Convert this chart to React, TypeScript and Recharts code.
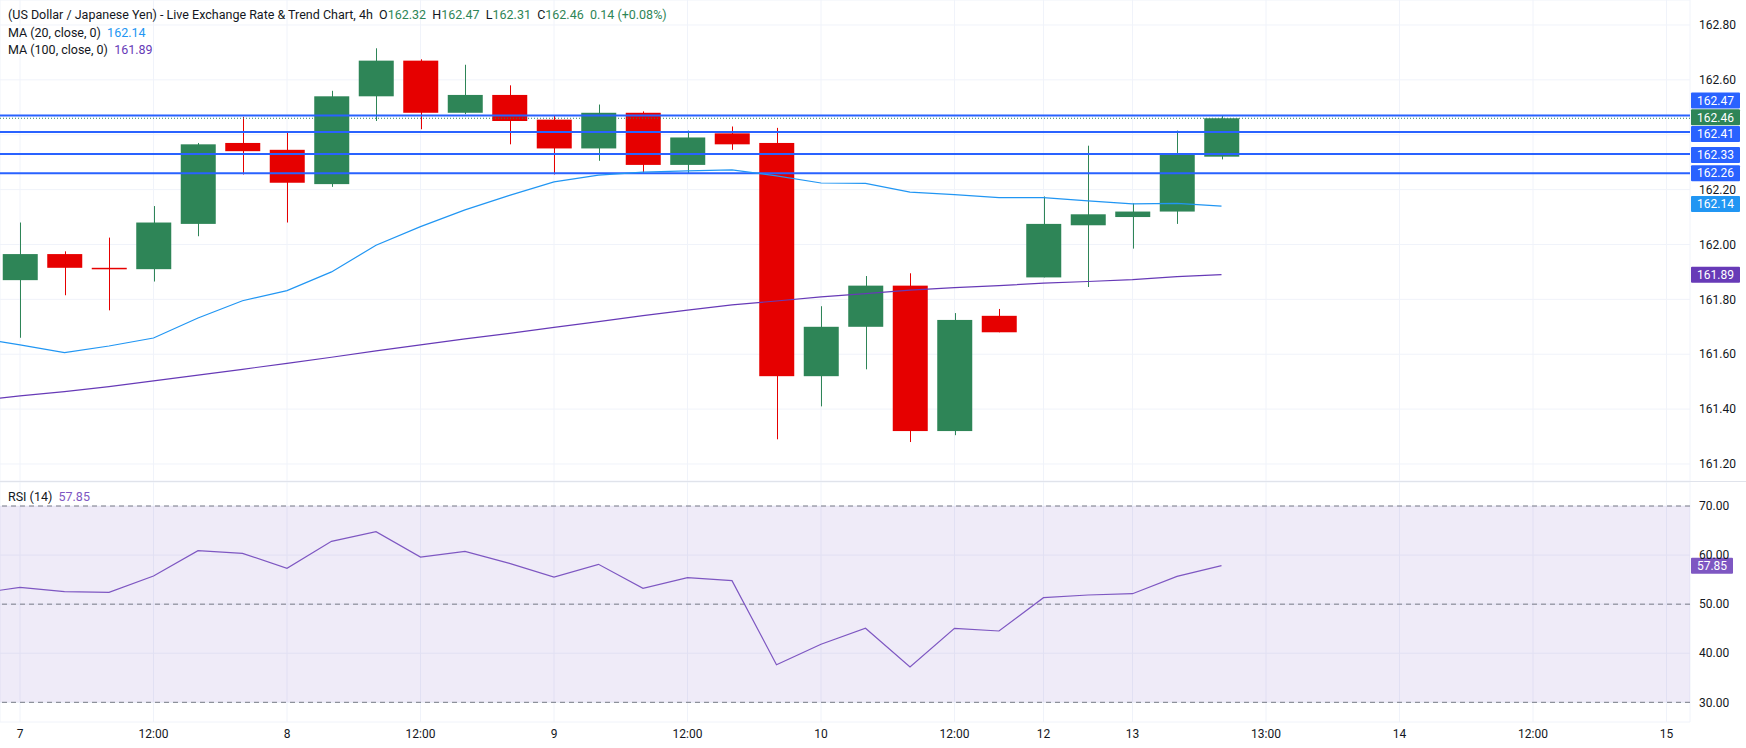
import React from 'react';
import {
  ComposedChart,
  Bar,
  Line,
  XAxis,
  YAxis,
  CartesianGrid,
  ReferenceLine,
  ReferenceArea
} from 'recharts';

// 4h candles, index -1 only carries indicator values (left edge of the window)
const opens = [161.87, 161.965, 161.915, 161.91, 162.075, 162.37, 162.345, 162.22, 162.54, 162.67, 162.48, 162.545, 162.455, 162.35, 162.48, 162.29, 162.405, 162.37, 161.52, 161.7, 161.85, 161.32, 161.74, 161.88, 162.07, 162.1, 162.12, 162.32];
const highs = [162.08, 161.975, 162.025, 162.14, 162.37, 162.465, 162.41, 162.56, 162.715, 162.675, 162.655, 162.58, 162.47, 162.51, 162.485, 162.415, 162.43, 162.425, 161.775, 161.885, 161.895, 161.75, 161.765, 162.175, 162.36, 162.15, 162.415, 162.47];
const lows = [161.66, 161.815, 161.76, 161.865, 162.03, 162.255, 162.08, 162.21, 162.45, 162.42, 162.475, 162.365, 162.255, 162.305, 162.26, 162.26, 162.345, 161.29, 161.41, 161.545, 161.28, 161.305, 161.68, 161.88, 161.845, 161.985, 162.075, 162.31];
const closes = [161.965, 161.915, 161.91, 162.08, 162.365, 162.34, 162.225, 162.54, 162.67, 162.48, 162.545, 162.45, 162.35, 162.48, 162.29, 162.39, 162.365, 161.52, 161.7, 161.85, 161.32, 161.725, 161.68, 162.075, 162.11, 162.12, 162.33, 162.46];

// indicators start one bar earlier (index -1)
const ma20 = [161.66, 161.634, 161.606, 161.63, 161.659, 161.732, 161.795, 161.832, 161.9, 161.997, 162.065, 162.126, 162.179, 162.228, 162.253, 162.264, 162.268, 162.272, 162.25, 162.224, 162.223, 162.191, 162.182, 162.171, 162.171, 162.159, 162.148, 162.15, 162.14];
const ma100 = [161.43, 161.448, 161.464, 161.482, 161.503, 161.524, 161.545, 161.567, 161.589, 161.612, 161.634, 161.656, 161.676, 161.698, 161.719, 161.741, 161.761, 161.78, 161.794, 161.809, 161.821, 161.834, 161.843, 161.85, 161.859, 161.865, 161.872, 161.883, 161.89];
const rsi = [52.1, 53.43, 52.54, 52.41, 55.74, 60.9, 60.36, 57.3, 62.8, 64.77, 59.6, 60.77, 58.32, 55.53, 58.12, 53.23, 55.4, 54.78, 37.67, 41.82, 45.08, 37.2, 45.08, 44.53, 51.32, 51.87, 52.13, 55.67, 57.85];

const timeTicks = [0, 3, 6, 9, 12, 15, 18, 21, 23, 25, 28, 31, 34, 37];
const timeLabels = ['7', '12:00', '8', '12:00', '9', '12:00', '10', '12:00', '12', '13', '13:00', '14', '12:00', '15'];

const priceTicks = [161.2, 161.4, 161.6, 161.8, 162.0, 162.2, 162.4, 162.6, 162.8];
// tick text hidden where a price tag sits on top of it
const hiddenPriceTicks = [162.4];
const rsiTicks = [30, 40, 50, 60, 70];

const levels = [162.47, 162.41, 162.33, 162.26];

const GREEN = '#2e8557';
const RED = '#e60000';
const BLUE = '#2962ff';
const MA20_COLOR = '#2196f3';
const MA100_COLOR = '#673ab7';
const RSI_COLOR = '#7e57c2';
const TEXT = '#131722';
const GRID = '#f0f3fa';
const FONT = 'Roboto, "Liberation Sans", sans-serif';

const rows = ma20.map((_, k) => {
  const i = k - 1;
  const c = i >= 0;
  return {
    i,
    range: c ? [lows[i], highs[i]] : null,
    open: c ? opens[i] : null,
    close: c ? closes[i] : null,
    ma20: ma20[k],
    ma100: ma100[k],
    rsi: rsi[k]
  };
});

const X_MIN = -20 / 44.5;
const X_MAX = X_MIN + 1690 / 44.5;

function Candle(props: any) {
  const { x, y, width, height, payload } = props;
  if (!payload || payload.open == null) return null;
  const [lo, hi] = payload.range;
  const k = height / (hi - lo || 1);
  const up = payload.close >= payload.open;
  const color = up ? GREEN : RED;
  const cx = Math.round(x + width / 2) + 0.5;
  const top = y + (hi - Math.max(payload.open, payload.close)) * k;
  const bot = y + (hi - Math.min(payload.open, payload.close)) * k;
  return (
    <g>
      <line x1={cx} x2={cx} y1={y} y2={y + height} stroke={color} strokeWidth={1} />
      <rect x={x} y={top} width={width} height={Math.max(bot - top, 1.5)} fill={color} />
    </g>
  );
}

function AxisTag({ viewBox, text, fill, dy = 0, w = 49 }: any) {
  if (!viewBox) return null;
  const x = viewBox.x + viewBox.width + 1;
  const y = viewBox.y + dy;
  return (
    <g>
      <rect x={x} y={y - 8} width={w} height={16} rx={1} fill={fill} />
      <text
        x={x + w / 2}
        y={y}
        dy='0.36em'
        textAnchor='middle'
        fill='#fff'
        fontSize={12}
        fontFamily={FONT}
      >
        {text}
      </text>
    </g>
  );
}

const levelShift: Record<string, number> = { '162.47': -15, '162.41': 2, '162.33': 1, '162.26': 0 };

function Legend() {
  const row = { position: 'absolute' as const, left: 8, fontSize: 12.5, color: TEXT, whiteSpace: 'pre' as const, lineHeight: '16px' };
  const g = { color: GREEN };
  return (
    <>
      <div style={{ ...row, top: 7 }}>
        (US Dollar / Japanese Yen) - Live Exchange Rate &amp; Trend Chart, 4h{'  '}O<span style={g}>162.32</span>{'  '}H
        <span style={g}>162.47</span>{'  '}L<span style={g}>162.31</span>{'  '}C<span style={g}>162.46</span>{'  '}
        <span style={g}>0.14 (+0.08%)</span>
      </div>
      <div style={{ ...row, top: 25 }}>
        MA (20, close, 0){'  '}<span style={{ color: MA20_COLOR }}>162.14</span>
      </div>
      <div style={{ ...row, top: 42 }}>
        MA (100, close, 0){'  '}<span style={{ color: MA100_COLOR }}>161.89</span>
      </div>
      <div style={{ ...row, top: 489 }}>
        RSI (14){'  '}<span style={{ color: RSI_COLOR }}>57.85</span>
      </div>
    </>
  );
}

export default function App() {
  const tickFont = { fill: TEXT, fontSize: 12, fontFamily: FONT };
  return (
    <div
      style={{
        position: 'absolute',
        left: 0,
        top: 0,
        width: 1746,
        height: 748,
        background: '#fff',
        fontFamily: FONT,
        overflow: 'hidden'
      }}
    >
      <ComposedChart width={1746} height={481} data={rows} margin={{ top: 0, right: 0, bottom: 0, left: 0 }}>
        <CartesianGrid stroke={GRID} />
        <XAxis dataKey='i' type='number' domain={[X_MIN, X_MAX]} ticks={timeTicks} allowDataOverflow hide />
        <YAxis
          orientation='right'
          width={56}
          domain={[161.138, 162.891]}
          ticks={priceTicks}
          allowDataOverflow
          tickLine={false}
          axisLine={false}
          tickSize={0}
          tickMargin={9}
          tick={tickFont}
          tickFormatter={(v: number) =>
            hiddenPriceTicks.some((h) => Math.abs(h - v) < 1e-6) ? '' : v.toFixed(2)
          }
        />
        {levels.map((v) => (
          <ReferenceLine
            key={v}
            y={v}
            stroke={BLUE}
            strokeWidth={2}
            label={<AxisTag text={v.toFixed(2)} fill={BLUE} dy={levelShift[v.toFixed(2)]} />}
          />
        ))}
        <ReferenceLine
          y={162.46}
          stroke={GREEN}
          strokeDasharray='1 2'
          label={<AxisTag text='162.46' fill={GREEN} dy={-1} />}
        />
        <Line dataKey='ma100' stroke={MA100_COLOR} strokeWidth={1.2} dot={false} activeDot={false} isAnimationActive={false} />
        <Line dataKey='ma20' stroke={MA20_COLOR} strokeWidth={1.2} dot={false} activeDot={false} isAnimationActive={false} />
        <Bar dataKey='range' barSize={35} shape={<Candle />} isAnimationActive={false} />
        <ReferenceLine y={162.14} stroke='none' label={<AxisTag text='162.14' fill={MA20_COLOR} dy={-2} />} />
        <ReferenceLine y={161.89} stroke='none' label={<AxisTag text='161.89' fill={MA100_COLOR} dy={0} />} />
      </ComposedChart>
      <div style={{ height: 1, background: '#e0e3eb' }} />
      <ComposedChart width={1746} height={266} data={rows} margin={{ top: 0, right: 0, bottom: 0, left: 0 }}>
        <ReferenceArea y1={30} y2={70} fill={RSI_COLOR} fillOpacity={0.12} stroke='none' />
        <CartesianGrid stroke={GRID} />
        <XAxis
          dataKey='i'
          type='number'
          domain={[X_MIN, X_MAX]}
          ticks={timeTicks}
          allowDataOverflow
          height={26}
          tickLine={false}
          axisLine={false}
          tickSize={0}
          tickMargin={7}
          tick={tickFont}
          tickFormatter={(v: number) => timeLabels[timeTicks.indexOf(v)] ?? ''}
        />
        <YAxis
          orientation='right'
          width={56}
          domain={[25.99, 74.89]}
          ticks={rsiTicks}
          allowDataOverflow
          tickLine={false}
          axisLine={false}
          tickSize={0}
          tickMargin={9}
          tick={tickFont}
          tickFormatter={(v: number) => v.toFixed(2)}
        />
        {[70, 50, 30].map((v) => (
          <ReferenceLine key={v} y={v} stroke='#787b86' strokeDasharray='5 4' />
        ))}
        <Line dataKey='rsi' stroke={RSI_COLOR} strokeWidth={1.2} dot={false} activeDot={false} isAnimationActive={false} />
        <ReferenceLine y={57.85} stroke='none' label={<AxisTag text='57.85' fill={RSI_COLOR} w={42} />} />
      </ComposedChart>
      <Legend />
    </div>
  );
}
